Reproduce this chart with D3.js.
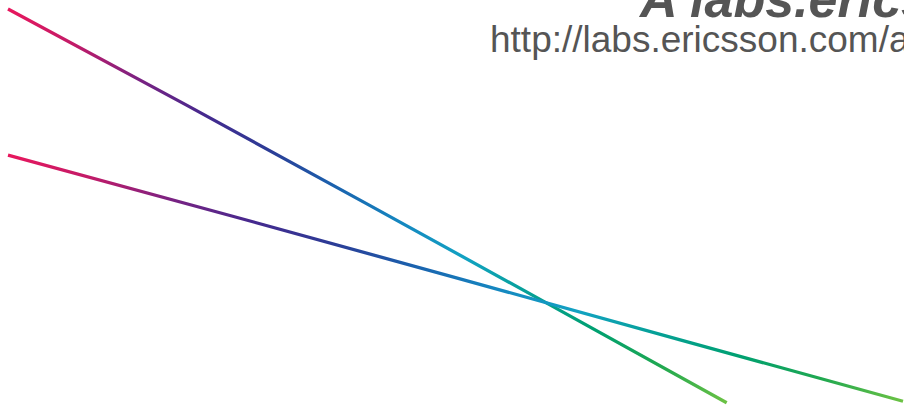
<!DOCTYPE html>
<html>
<head>
<meta charset="utf-8">
<script src="https://cdn.jsdelivr.net/npm/d3@7"></script>
<style>
html,body{margin:0;padding:0;background:#fff;overflow:hidden;}
svg{display:block;}
</style>
</head>
<body>
<svg id="chart" width="904" height="406"></svg>
<script>
// Data
const xA = [0, 20, 40, 60, 80.3];
const yA = [100, 75.6, 50.8, 25.8, 0.3];
const xB = [0, 25, 50, 75, 100];
const yB = [63, 47.6, 32.0, 16.3, 0.7];
const gradientColors = ["#e8175d", "#c21b68", "#7a2282", "#45298e", "#2b3c96", "#1a62ae", "#1587c0", "#12a2c2", "#05a095", "#00a070", "#20a850", "#6cc244"];
const titleText = "A labs.ericsson.com experiment";
const urlText = "http://labs.ericsson.com/apis";

const svg = d3.select("#chart");
const x = d3.scaleLinear().domain([0, 100]).range([8, 903]);
const y = d3.scaleLinear().domain([0, 100]).range([404, 9]);

const series = [
  {id: "gA", xs: xA, ys: yA},
  {id: "gB", xs: xB, ys: yB}
];

const defs = svg.append("defs");
series.forEach(s => {
  const n = s.xs.length;
  const g = defs.append("linearGradient")
    .attr("id", s.id)
    .attr("gradientUnits", "userSpaceOnUse")
    .attr("x1", x(s.xs[0])).attr("y1", y(s.ys[0]))
    .attr("x2", x(s.xs[n-1])).attr("y2", y(s.ys[n-1]));
  gradientColors.forEach((c, i) => {
    g.append("stop").attr("offset", i / (gradientColors.length - 1)).attr("stop-color", c);
  });
});

const line = d3.line().x(d => x(d[0])).y(d => y(d[1]));

series.forEach(s => {
  const pts = s.xs.map((v, i) => [v, s.ys[i]]);
  svg.append("path")
    .datum(pts)
    .attr("d", line)
    .attr("fill", "none")
    .attr("stroke", `url(#${s.id})`)
    .attr("stroke-width", 3.3)
    .attr("stroke-linecap", "butt");
});

svg.append("text")
  .attr("x", 640).attr("y", 17)
  .attr("font-family", "Liberation Sans, Arial, sans-serif")
  .attr("font-size", 52)
  .attr("font-style", "italic")
  .attr("font-weight", "bold")
  .attr("fill", "#555")
  .text(titleText);

svg.append("text")
  .attr("x", 490).attr("y", 52)
  .attr("font-family", "Liberation Sans, Arial, sans-serif")
  .attr("font-size", 37)
  .attr("fill", "#555")
  .text(urlText);
</script>
</body>
</html>
